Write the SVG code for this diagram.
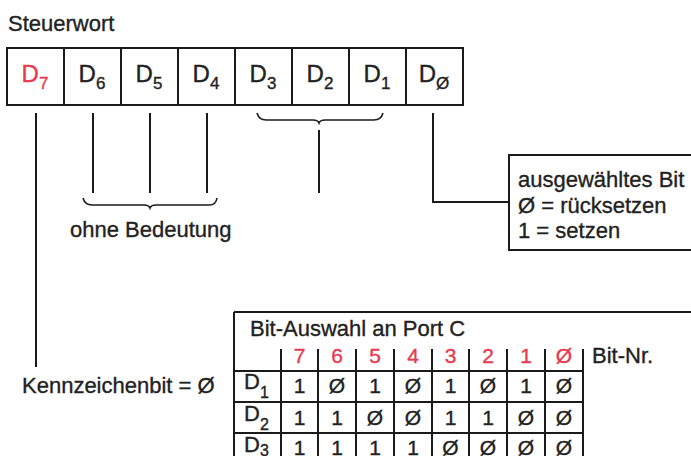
<svg xmlns="http://www.w3.org/2000/svg" width="691" height="456" viewBox="0 0 691 456">
<style>
text{font-family:"Liberation Sans",Arial,sans-serif;font-size:22px;fill:#222;stroke:#222;stroke-width:0.35}
.r{fill:#e8394f;stroke:#e8394f}
.c{text-anchor:middle}
.s{font-size:16px}
.big{font-size:24px}
.bs{font-size:17px}
.ln{stroke:#1a1a1a;stroke-width:2;fill:none}
.br{stroke:#1a1a1a;stroke-width:1.6;fill:none}
.d{font-size:21px}
</style>
<rect width="691" height="456" fill="#fff"/>
<text id="title" x="8" y="31">Steuerwort</text>
<g id="register">
<rect class="ln" x="7" y="48" width="456" height="57"/>
<path class="ln" d="M64,48V105M121,48V105M178,48V105M235,48V105M292,48V105M349,48V105M406,48V105"/>
<text class="c r big" x="35" y="82">D<tspan class="bs r" dy="7">7</tspan></text>
<text class="c big" x="92" y="82">D<tspan class="bs" dy="7">6</tspan></text>
<text class="c big" x="149" y="82">D<tspan class="bs" dy="7">5</tspan></text>
<text class="c big" x="206" y="82">D<tspan class="bs" dy="7">4</tspan></text>
<text class="c big" x="263" y="82">D<tspan class="bs" dy="7">3</tspan></text>
<text class="c big" x="320" y="82">D<tspan class="bs" dy="7">2</tspan></text>
<text class="c big" x="377" y="82">D<tspan class="bs" dy="7">1</tspan></text>
<text class="c big" x="434" y="82">D<tspan class="bs" dy="7">Ø</tspan></text>
</g>
<g id="connectors">
<path class="ln" d="M36,113V367"/>
<path class="ln" d="M93,113V193M150,113V193M207,113V193"/>
<path class="br" d="M83,198Q85,205 92,205L144,205Q149,205 150,208Q151,205 156,205L209,205Q216,205 217,198"/>
<path class="br" d="M257,113Q259,120 266,120L313,120Q318,120 319,123Q320,120 325,120L374,120Q381,120 383,113"/>
<path class="ln" d="M319,130V193"/>
<path class="ln" d="M433,113V202H509"/>
</g>
<g id="label-ohne">
<text x="70" y="237">ohne Bedeutung</text>
</g>
<g id="label-bit">
<rect class="ln" x="509" y="155" width="200" height="95"/>
<text x="518" y="187">ausgewähltes Bit</text>
<text x="518" y="213">Ø = rücksetzen</text>
<text x="518" y="238">1 = setzen</text>
</g>
<g id="label-kennzeichen">
<text x="22" y="393">Kennzeichenbit = Ø</text>
</g>
<g id="table">
<path class="ln" d="M234,312H691M234,312V456"/>
<text x="250" y="336">Bit-Auswahl an Port C</text>
<path class="ln" d="M281,349V456M318,349V456M356,349V456M394,349V456M432,349V456M469,349V456M507,349V456M545,349V456M583,349V456"/>
<path class="ln" d="M234,371H583M234,402H583M234,433H583"/>
<text class="c r d" x="299.5" y="363">7</text>
<text class="c r d" x="337" y="363">6</text>
<text class="c r d" x="375" y="363">5</text>
<text class="c r d" x="413" y="363">4</text>
<text class="c r d" x="450.5" y="363">3</text>
<text class="c r d" x="488" y="363">2</text>
<text class="c r d" x="526" y="363">1</text>
<text class="c r d" x="564" y="363">Ø</text>
<text x="592" y="363">Bit-Nr.</text>
<text x="244" y="389">D<tspan class="s" dy="9">1</tspan></text>
<text x="244" y="421">D<tspan class="s" dy="9">2</tspan></text>
<text x="244" y="452">D<tspan class="s" dy="4">3</tspan></text>
<text class="c d" x="299.5" y="393">1</text><text class="c d" x="337" y="393">Ø</text><text class="c d" x="375" y="393">1</text><text class="c d" x="413" y="393">Ø</text><text class="c d" x="450.5" y="393">1</text><text class="c d" x="488" y="393">Ø</text><text class="c d" x="526" y="393">1</text><text class="c d" x="564" y="393">Ø</text>
<text class="c d" x="299.5" y="425">1</text><text class="c d" x="337" y="425">1</text><text class="c d" x="375" y="425">Ø</text><text class="c d" x="413" y="425">Ø</text><text class="c d" x="450.5" y="425">1</text><text class="c d" x="488" y="425">1</text><text class="c d" x="526" y="425">Ø</text><text class="c d" x="564" y="425">Ø</text>
<text class="c d" x="299.5" y="455">1</text><text class="c d" x="337" y="455">1</text><text class="c d" x="375" y="455">1</text><text class="c d" x="413" y="455">1</text><text class="c d" x="450.5" y="455">Ø</text><text class="c d" x="488" y="455">Ø</text><text class="c d" x="526" y="455">Ø</text><text class="c d" x="564" y="455">Ø</text>
</g>
</svg>
